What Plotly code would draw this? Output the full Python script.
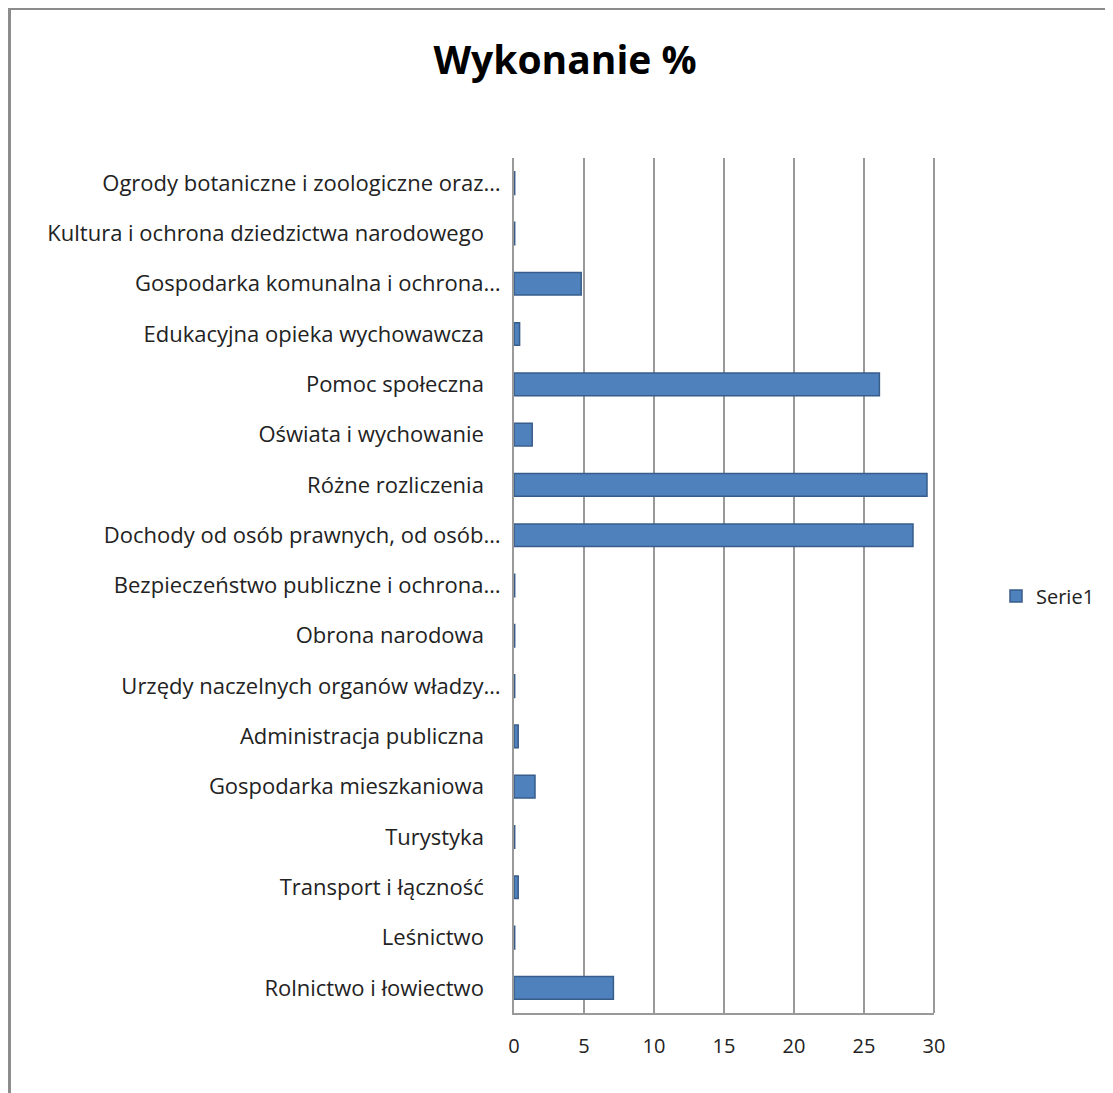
import plotly.graph_objects as go

# Categories, top to bottom as displayed
categories = [
    "Ogrody botaniczne i zoologiczne oraz…",
    "Kultura i ochrona dziedzictwa narodowego\u2002\u00a0",
    "Gospodarka komunalna i ochrona…",
    "Edukacyjna opieka wychowawcza\u2002\u00a0",
    "Pomoc społeczna\u2002\u00a0",
    "Oświata i wychowanie\u2002\u00a0",
    "Różne rozliczenia\u2002\u00a0",
    "Dochody od osób prawnych, od osób…",
    "Bezpieczeństwo publiczne i ochrona…",
    "Obrona narodowa\u2002\u00a0",
    "Urzędy naczelnych organów władzy…",
    "Administracja publiczna\u2002\u00a0",
    "Gospodarka mieszkaniowa\u2002\u00a0",
    "Turystyka\u2002\u00a0",
    "Transport i łączność\u2002\u00a0",
    "Leśnictwo\u2002\u00a0",
    "Rolnictwo i łowiectwo\u2002\u00a0",
]
serie1 = [0.05, 0.05, 4.8, 0.4, 26.1, 1.3, 29.5, 28.5, 0.05, 0.05, 0.05, 0.3, 1.5, 0.05, 0.3, 0.05, 7.1]
x_ticks = [0, 5, 10, 15, 20, 25, 30]

OFF = 8  # default page body margin
W, H = 1113 - OFF, 1093 - OFF
ML, MT = 514 - OFF, 158 - OFF
pw, ph = 420, 855
MR = W - ML - pw
MB = H - MT - ph

font = "'Open Sans', Lato, sans-serif"


def px_x(p):
    return (p - OFF - ML) / pw


def px_y(p):
    return (H - MB - (p - OFF)) / ph


fig = go.Figure()
fig.add_trace(go.Bar(
    y=categories, x=serie1, orientation="h", name="Serie1",
    marker=dict(color="#4F81BD", line=dict(color="#385D8A", width=1.5)),
    width=0.45, showlegend=True,
))

fig.update_layout(
    width=W, height=H,
    margin=dict(l=ML, r=MR, t=MT, b=MB),
    paper_bgcolor="white", plot_bgcolor="white",
    title=dict(text="<b>Wykonanie %</b>", x=(565 - OFF) / W, xanchor="center",
               y=1 - (60 - OFF) / H, yanchor="middle",
               font=dict(family=font, size=39, color="black")),
    font=dict(family=font, size=20, color="#222222"),
    showlegend=True,
    legend=dict(x=px_x(996), y=px_y(596), xanchor="left", yanchor="middle",
                font=dict(size=20, color="#222222"), bgcolor="rgba(0,0,0,0)",
                itemwidth=30),
    xaxis=dict(range=[0, 30], tickvals=x_ticks, ticktext=[str(v) for v in x_ticks],
               showgrid=True, gridcolor="#999999", gridwidth=2,
               zeroline=False, showline=True, linecolor="#999999", linewidth=2,
               ticks="", ticklabelstandoff=14, tickfont=dict(size=20, color="#222222")),
    yaxis=dict(type="category", autorange="reversed", showgrid=False,
               showline=True, linecolor="#999999", linewidth=2,
               ticks="", ticklabelstandoff=7, tickfont=dict(size=22, color="#222222")),
    shapes=[
        dict(type="rect", xref="paper", yref="paper",
             x0=px_x(9.5), x1=px_x(1130), y0=px_y(1110), y1=px_y(8.5),
             line=dict(color="#8C8C8C", width=3), fillcolor="rgba(0,0,0,0)", layer="below"),
        dict(type="line", xref="paper", yref="paper",
             x0=1, x1=1, y0=0, y1=1,
             line=dict(color="#999999", width=2)),
    ],
)

fig.write_html("out.html")
